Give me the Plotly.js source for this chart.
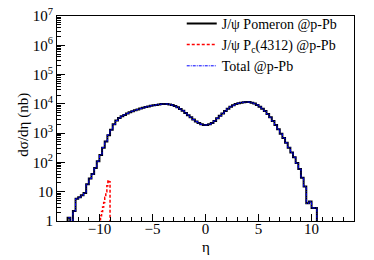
<!DOCTYPE html>
<html>
<head>
<meta charset="utf-8">
<script src="https://cdn.plot.ly/plotly-3.0.1.min.js"></script>
<style>html,body{margin:0;padding:0;background:#fff;}#plot{width:374px;height:260px;}</style>
</head>
<body>
<div id="plot"></div>
<script>
// Pomeron histogram: bins of width 0.25 starting at eta = -13.25 (0.1 = empty bin, below axis)
const pomStart = -13.25;
const pomWidth = 0.25;
const pomeronValues = [
  0.1, 1.3, 0.1, 2.2, 5.7, 6.5, 7.5, 9, 18, 28,
  40, 65, 110, 180, 320, 520, 850, 1300, 2000, 2700,
  3300, 3800, 4200, 4700, 5200, 5600, 6000, 6400, 6900, 7300,
  7800, 8200, 8600, 8900, 9200, 9500, 9800, 9900, 9900, 9600,
  9100, 8400, 7600, 6700, 5800, 4900, 4100, 3500, 2900, 2500,
  2200, 2000, 1900, 1900, 2000, 2200, 2600, 3200, 3900, 4700,
  5700, 6800, 7900, 8900, 9800, 10500, 11000, 11400, 11600, 11500,
  11000, 10200, 9200, 8000, 6800, 5700, 4500, 3500, 2600, 1900,
  1350, 950, 680, 470, 320, 220, 150, 95, 60, 30,
  15, 4, 4.6, 2.8, 2.8, 0.1
];
// Pc(4312) histogram: bins of width 0.1 starting at eta = -10.0
const pcStart = -10.0;
const pcWidth = 0.1;
const pcValues = [1.1, 1.5, 2.1, 3.0, 4.3, 6.5, 10, 16, 25, 22, 0.1];

const legendNames = ['J/ψ Pomeron @p-Pb', 'J/ψ P<sub>c</sub>(4312) @p-Pb', 'Total @p-Pb'];
const xTitle = 'η';
const yTitle = 'dσ/dη (nb)';
const xTickVals = [-10, -5, 0, 5, 10];
const xTickText = ['−10', '−5', '0', '5', '10'];
const yMajorVals = [1, 10, 100, 1e3, 1e4, 1e5, 1e6, 1e7];
const yMajorText = ['1', '10', '10<sup>2</sup>', '10<sup>3</sup>', '10<sup>4</sup>', '10<sup>5</sup>', '10<sup>6</sup>', '10<sup>7</sup>'];
const yMinorDigits = [2, 3, 4, 5, 6, 7, 8, 9];

function stepXY(start, width, vals) {
  const x = [], y = [];
  for (let i = 0; i < vals.length; i++) { x.push(start + i * width); y.push(vals[i]); }
  x.push(start + vals.length * width); y.push(vals[vals.length - 1]);
  return {x, y};
}
// total = pomeron + pc content rebinned into pomeron bins
const totalValues = pomeronValues.map((v, i) => {
  const lo = pomStart + i * pomWidth, hi = lo + pomWidth;
  let add = 0;
  pcValues.forEach((p, j) => {
    if (p <= 0.1) return;
    const plo = pcStart + j * pcWidth, phi = plo + pcWidth;
    const ov = Math.max(0, Math.min(hi, phi) - Math.max(lo, plo));
    add += p * ov / pomWidth;
  });
  return v + add;
});

const yMinorVals = [];
for (let d = 0; d < 7; d++) yMinorDigits.forEach(k => yMinorVals.push(k * yMajorVals[d]));

const pom = stepXY(pomStart, pomWidth, pomeronValues);
const pc = stepXY(pcStart, pcWidth, pcValues);
const tot = stepXY(pomStart, pomWidth, totalValues);

const traces = [
  {x: pom.x, y: pom.y, mode: 'lines', line: {shape: 'hv', color: '#000000', width: 2}, name: legendNames[0]},
  {x: pc.x, y: pc.y, mode: 'lines', line: {shape: 'hv', color: '#ff0000', width: 1.5, dash: '3px,2px'}, name: legendNames[1]},
  {x: tot.x, y: tot.y, mode: 'lines', line: {shape: 'hv', color: '#0000ff', width: 1, dash: '3px,1px,1px,1px'}, name: legendNames[2]},
  {x: [null], y: [null], yaxis: 'y2', mode: 'lines', showlegend: false, hoverinfo: 'skip'}
];

const fontFam = '"Liberation Serif", "Times New Roman", serif';
const layout = {
  width: 374, height: 260,
  margin: {l: 57, r: 20, t: 8, b: 39},
  paper_bgcolor: '#fff', plot_bgcolor: '#fff',
  font: {family: fontFam, size: 14, color: '#000'},
  showlegend: true,
  legend: {x: 0.42, y: 1.04, xanchor: 'left', yanchor: 'top', bgcolor: 'rgba(0,0,0,0)', borderwidth: 0,
           font: {family: fontFam, size: 14, color: '#000'}, tracegroupgap: 0},
  xaxis: {
    range: [-14, 14], showgrid: false, zeroline: false,
    showline: true, linecolor: '#000', linewidth: 1, mirror: true,
    ticks: 'inside', ticklen: 7, tickcolor: '#000',
    tickmode: 'array', tickvals: xTickVals, ticktext: xTickText,
    minor: {ticks: 'inside', ticklen: 4, tickcolor: '#000', dtick: 1, tick0: 0, showgrid: false},
    tickfont: {family: fontFam, size: 15},
    ticklabelstandoff: -6
  },
  yaxis: {
    type: 'log', range: [0, 7], showgrid: false, zeroline: false,
    showline: true, linecolor: '#000', linewidth: 1, mirror: true,
    ticks: 'inside', ticklen: 8, tickcolor: '#000',
    tickmode: 'array', tickvals: yMajorVals, ticktext: yMajorText,
    tickfont: {family: fontFam, size: 15}
  },
  yaxis2: {
    type: 'log', range: [0, 7], overlaying: 'y', side: 'left', anchor: 'x',
    showgrid: false, zeroline: false, showline: false,
    ticks: 'inside', ticklen: 4, tickcolor: '#000',
    tickmode: 'array', tickvals: yMinorVals, showticklabels: false
  },
  annotations: [
    {text: yTitle, xref: 'paper', yref: 'paper', x: -0.111, y: 0.47, xanchor: 'center', yanchor: 'middle',
     textangle: -90, showarrow: false, font: {family: fontFam, size: 15, color: '#000'}},
    {text: xTitle, xref: 'paper', yref: 'paper', x: 0.5, y: -0.127, xanchor: 'center', yanchor: 'middle',
     showarrow: false, font: {family: fontFam, size: 15, color: '#000'}}
  ]
};
Plotly.newPlot('plot', traces, layout, {staticPlot: true, displayModeBar: false});
</script>
</body>
</html>
